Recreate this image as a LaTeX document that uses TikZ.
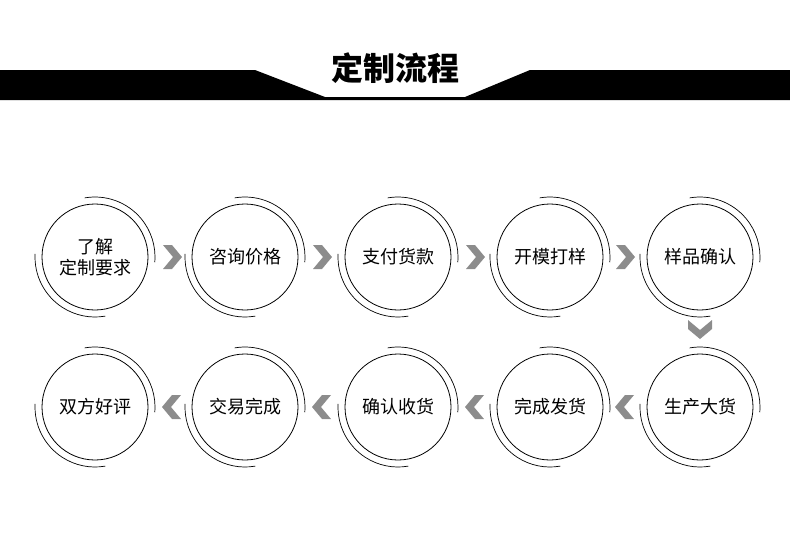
\documentclass[tikz,border=0pt]{standalone}
\usepackage{fontspec}
\setmainfont{Noto Sans CJK SC}
\begin{document}
\begin{tikzpicture}[x=1pt,y=-1pt,
  stepnode/.style={circle,draw,line width=0.8pt,minimum size=106pt,inner sep=0pt,align=center,font=\fontsize{18}{21}\selectfont},
  arcs/.style={line width=0.7pt},
  chev/.style={fill=black!45,draw=none}]
\useasboundingbox (0,0) rectangle (790,550);
\fill (0,70) -- (255,70) -- (325,97) -- (465,97) -- (530,70) -- (790,70) -- (790,100) -- (0,100) -- cycle;
\node[font=\bfseries\fontsize{32}{34}\selectfont] (title) at (395,68) {定制流程};
\foreach \n/\x/\y/\t in {a/95/257/{了解\\定制要求},b/245/257/咨询价格,c/398/257/支付货款,d/550/257/开模打样,e/700/257/样品确认,
  f/700/407/生产大货,g/550/407/完成发货,h/398/407/确认收货,i/245/407/交易完成,j/95/407/双方好评}{
  \node[stepnode] (\n) at (\x,\y) {\t};
  \draw[arcs] (\n.center) ++(-100:60) arc[start angle=-100,end angle=5,radius=60];
  \draw[arcs] (\n.center) ++(183:60) arc[start angle=183,end angle=80,radius=60];
}
\foreach \x in {172,322,475,625}{
  \fill[chev] (\x-9,245) -- (\x,245) -- (\x+10,257) -- (\x,269) -- (\x-9,269) -- (\x+1,257) -- cycle;}
\foreach \x in {172,322,475,625}{
  \fill[chev] (\x+9,395) -- (\x,395) -- (\x-10,407) -- (\x,419) -- (\x+9,419) -- (\x-1,407) -- cycle;}
\fill[chev] (688,320) -- (688,329) -- (700,339) -- (712,329) -- (712,320) -- (700,330) -- cycle;
\end{tikzpicture}
\end{document}
